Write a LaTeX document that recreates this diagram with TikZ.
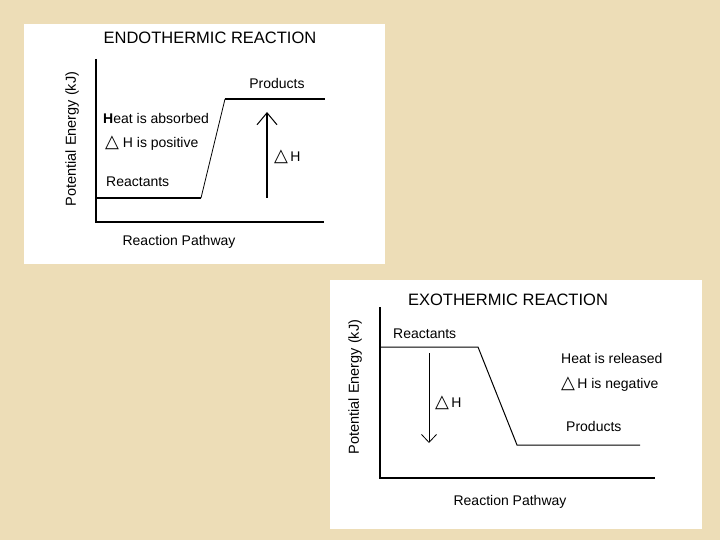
\documentclass[tikz,border=0pt]{standalone}
\usepackage{fontspec}
\setmainfont{Liberation Sans}
\newfontfamily\symfont{DejaVu Sans}
\usetikzlibrary{arrows.meta,positioning}
\definecolor{parchment}{RGB}{237,221,183}
\newcommand{\dH}{{\symfont\fontsize{18}{18}\selectfont\char"25B3}}
\tikzset{
  panel/.style={fill=white,draw=none},
  title/.style={font=\fontsize{16.5}{18}\selectfont},
  lbl/.style={font=\fontsize{14}{15}\selectfont,inner sep=0pt},
  axis/.style={line width=1.3pt},
}
\begin{document}
\begin{tikzpicture}[x=1pt,y=-1pt]
  \fill[parchment] (0,0) rectangle (720,540);
  \useasboundingbox (0,0) rectangle (720,540);
  % endothermic panel
  \fill[panel] (24,24) rectangle (385,264);
  \node[title] (endotitle) at (210,38) {ENDOTHERMIC REACTION};
  \coordinate (eo) at (96,222);
  \coordinate (etop) at (96,59);
  \coordinate (eend) at (324,222);
  \draw[axis] (etop) -- (eo) -- (eend);
  \node[lbl,rotate=90,font=\fontsize{14.5}{15}\selectfont] (eylab) at (72,139) {Potential Energy (kJ)};
  \node[lbl] (exlab) at (179,242) {Reaction Pathway};
  \coordinate (er1) at (96,198);
  \coordinate (er2) at (201,198);
  \coordinate (ep1) at (225,99);
  \coordinate (ep2) at (325,99);
  \draw[line width=1.3pt] (er1) -- (er2);
  \draw[line width=0.8pt] (er2) -- (ep1);
  \draw[line width=2.2pt] (ep1) -- (ep2);
  \node[lbl] (eprod) at (277,83) {Products};
  \node[lbl,anchor=west] (eheat) at (103,118) {\textbf{H}eat is absorbed};
  \node[lbl,anchor=west] (epos) at (105,143) {\dH\ H is positive};
  \node[lbl,anchor=west] (ereact) at (106,182) {Reactants};
  \coordinate (eab) at (267,198);
  \coordinate (eat) at (267,112);
  \draw[line width=1.6pt,-{Straight Barb[length=12pt,width=20pt,line width=1pt]}] (eab) -- (eat);
  \node[lbl,anchor=west] (edh) at (274,157) {\dH\,H};
  % exothermic panel
  \fill[panel] (330,280) rectangle (702,529);
  \node[title] (exotitle) at (508,300) {EXOTHERMIC REACTION};
  \coordinate (xo) at (380,478);
  \coordinate (xtop) at (380,307);
  \coordinate (xend) at (655,478);
  \draw[axis] (xtop) -- (xo) -- (xend);
  \node[lbl,rotate=90,font=\fontsize{14.5}{15}\selectfont] (xylab) at (355,387) {Potential Energy (kJ)};
  \node[lbl] (xxlab) at (510,502) {Reaction Pathway};
  \coordinate (xr1) at (380,347);
  \coordinate (xr2) at (478,347);
  \coordinate (xp1) at (517,445);
  \coordinate (xp2) at (640,445);
  \draw[line width=1pt] (xr1) -- (xr2) -- (xp1) -- (xp2);
  \node[lbl,anchor=west] (xreact) at (393,334) {Reactants};
  \node[lbl,anchor=west] (xheat) at (561,358) {Heat is released};
  \node[lbl,anchor=west] (xneg) at (561,384) {\dH\,H is negative};
  \node[lbl,anchor=west] (xprod) at (566,426) {Products};
  \coordinate (xat) at (429,353);
  \coordinate (xab) at (429,443);
  \draw[line width=0.8pt,-{Straight Barb[length=8pt,width=15pt]}] (xat) -- (xab);
  \node[lbl,anchor=west] (xdh) at (435,403) {\dH\,H};
\end{tikzpicture}
\end{document}
